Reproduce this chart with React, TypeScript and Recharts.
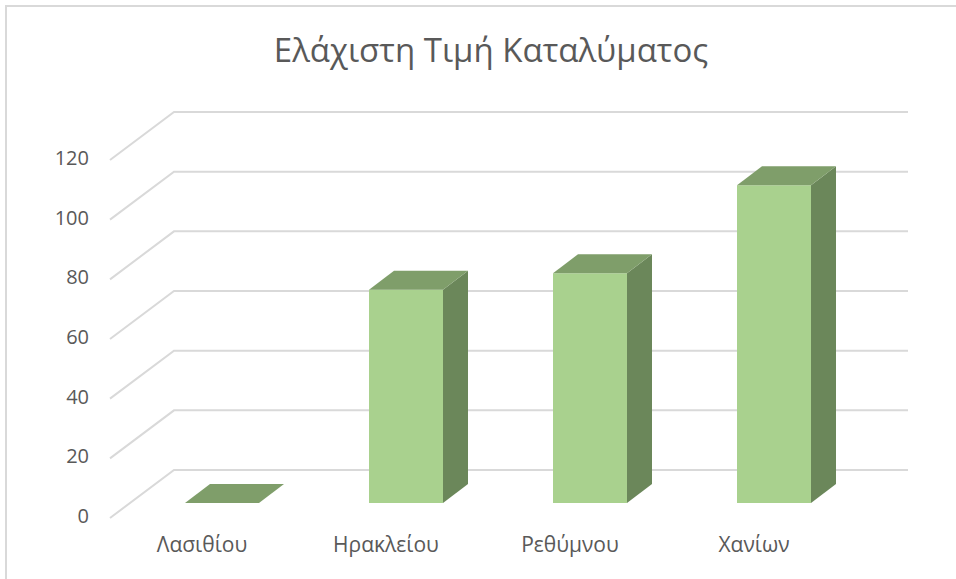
import { BarChart, Bar, XAxis, YAxis, CartesianGrid } from "recharts";

const regions = ["Λασιθίου", "Ηρακλείου", "Ρεθύμνου", "Χανίων"];
const minPrice = [0, 71.5, 77, 106.5];
const yTicks = [0, 20, 40, 60, 80, 100, 120];

const data = regions.map((r, i) => ({ region: r, price: minPrice[i] }));

const FONT = "'Open Sans', sans-serif";
const TEXT = "#595959";
// depth of the 3d floor and of the bars (oblique projection)
const WALL = { dx: 64, dy: -48 };
const FRONT = { dx: 20, dy: -15 };
const DEPTH = { dx: 25, dy: -19 };

function GridLine(props: any) {
  const { x1, y1, x2 } = props;
  const bx = x1 + WALL.dx;
  const by = y1 + WALL.dy;
  return (
    <polyline
      key={props.key ?? `g-${y1}`}
      points={`${x1},${y1} ${bx},${by} ${x2 + WALL.dx - 2},${by}`}
      fill="none"
      stroke="#d9d9d9"
      strokeWidth={2}
    />
  );
}

function Column(props: any) {
  const { x, y, width, height } = props;
  const fx = x + FRONT.dx;
  const fy = y + FRONT.dy;
  const h = Math.max(0, height || 0);
  const w = width;
  const { dx, dy } = DEPTH;
  return (
    <g>
      {h > 0 && <rect x={fx} y={fy} width={w} height={h} fill="#a9d18e" />}
      {h > 0 && (
        <polygon
          points={`${fx + w},${fy} ${fx + w + dx},${fy + dy} ${fx + w + dx},${fy + h + dy} ${fx + w},${fy + h}`}
          fill="#6b875a"
        />
      )}
      <polygon
        points={`${fx},${fy} ${fx + dx},${fy + dy} ${fx + w + dx},${fy + dy} ${fx + w},${fy}`}
        fill="#7f9e6a"
      />
    </g>
  );
}

export default function App() {
  return (
    <div style={{ position: "absolute", left: 0, top: 0, width: 956, height: 579, overflow: "hidden", background: "#fff" }}>
      <div style={{ position: "absolute", left: 5, top: 5, width: 980, height: 600, border: "2px solid #d9d9d9" }} />
      <div
        style={{
          position: "absolute", left: 0, top: 30, width: 982, textAlign: "center",
          fontFamily: FONT, fontSize: 33, color: TEXT, lineHeight: "40px",
        }}
      >
        Ελάχιστη Τιμή Καταλύματος
      </div>
      <div style={{ position: "absolute", left: 0, top: 0 }}>
        <BarChart width={956} height={579} data={data} margin={{ top: 160, right: 110, bottom: 0, left: 0 }}>
          <CartesianGrid vertical={false} horizontal={(p: any) => <GridLine {...p} />} />
          <XAxis
            dataKey="region"
            axisLine={false}
            tickLine={false}
            height={61}
            tickSize={0}
            tickMargin={19}
            tick={{ fill: TEXT, fontSize: 21, fontFamily: FONT }}
            interval={0}
          />
          <YAxis
            domain={[0, 120]}
            ticks={yTicks}
            axisLine={false}
            tickLine={false}
            width={110}
            tickSize={0}
            tickMargin={21}
            tick={{ fill: TEXT, fontSize: 20, fontFamily: FONT, dy: -2 }}
          />
          <Bar dataKey="price" barSize={74} shape={<Column />} isAnimationActive={false} />
        </BarChart>
      </div>
    </div>
  );
}
